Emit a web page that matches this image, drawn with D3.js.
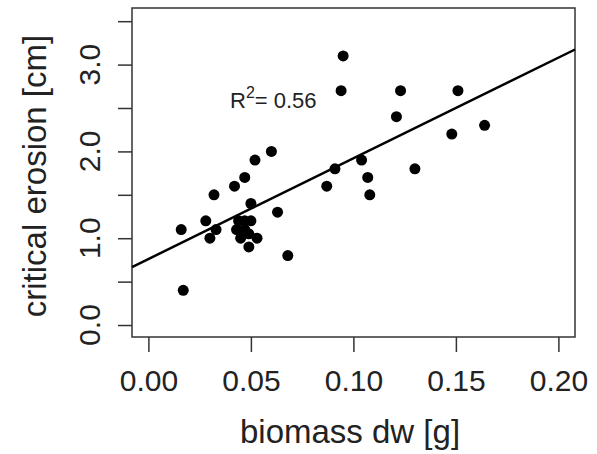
<!DOCTYPE html>
<html>
<head>
<meta charset="utf-8">
<script src="https://cdn.jsdelivr.net/npm/d3@7"></script>
<style>
  body { margin: 0; background: #fff; }
  text { font-family: "Liberation Sans", Arial, sans-serif; fill: #222; }
</style>
</head>
<body>
<div id="chart"></div>
<script>
// biomass dry weight [g]
var biomass = [0.016, 0.017, 0.028, 0.030, 0.032, 0.033, 0.042, 0.047, 0.052, 0.060,
               0.050, 0.063, 0.068, 0.044, 0.047, 0.050, 0.043, 0.047, 0.045, 0.049,
               0.053, 0.049, 0.087, 0.091, 0.095, 0.094, 0.104, 0.107, 0.108, 0.121,
               0.123, 0.130, 0.148, 0.151, 0.164];
// critical erosion [cm]
var erosion = [1.1, 0.4, 1.2, 1.0, 1.5, 1.1, 1.6, 1.7, 1.9, 2.0,
               1.4, 1.3, 0.8, 1.2, 1.2, 1.2, 1.1, 1.1, 1.0, 1.05,
               1.0, 0.9, 1.6, 1.8, 3.1, 2.7, 1.9, 1.7, 1.5, 2.4,
               2.7, 1.8, 2.2, 2.7, 2.3];
// fitted line: intercept, slope
var fit = [0.76, 11.6];
var r2 = "0.56";

var xTicks = [0, 0.05, 0.10, 0.15, 0.20];
var yTicks = [0, 0.5, 1, 1.5, 2, 2.5, 3, 3.5];
var yLabels = [0, 1, 2, 3];

var width = 597, height = 454;
var margin = {top: 8, right: 22, bottom: 117, left: 132};

var svg = d3.select("#chart").append("svg")
    .attr("width", width)
    .attr("height", height);

var x = d3.scaleLinear()
    .domain([-0.008, 0.2081])
    .range([margin.left, width - margin.right]);

var y = d3.scaleLinear()
    .domain([-0.138, 3.652])
    .range([height - margin.bottom, margin.top]);

// box
svg.append("rect")
    .attr("x", margin.left)
    .attr("y", margin.top)
    .attr("width", width - margin.right - margin.left)
    .attr("height", height - margin.bottom - margin.top)
    .attr("fill", "none")
    .attr("stroke", "#333")
    .attr("stroke-width", 1.5);

// x axis
var xAxis = svg.append("g")
    .attr("transform", "translate(0," + (height - margin.bottom) + ")")
    .call(d3.axisBottom(x).tickValues(xTicks).tickSize(15).tickPadding(18)
        .tickFormat(d3.format(".2f")));
xAxis.select(".domain").remove();
xAxis.selectAll("line").attr("stroke", "#333").attr("stroke-width", 1.5);
xAxis.selectAll("text")
    .style("font-family", "Liberation Sans, Arial, sans-serif")
    .style("font-size", "30px")
    .attr("fill", "#222");

// y axis
var yAxis = svg.append("g")
    .attr("transform", "translate(" + margin.left + ",0)")
    .call(d3.axisLeft(y).tickValues(yTicks).tickSize(14).tickFormat(""));
yAxis.select(".domain").remove();
yAxis.selectAll("line").attr("stroke", "#333").attr("stroke-width", 1.5);

svg.selectAll(".ylab")
    .data(yLabels)
    .enter().append("text")
    .attr("class", "ylab")
    .attr("transform", function(d) { return "translate(100," + y(d) + ") rotate(-90)"; })
    .attr("text-anchor", "middle")
    .style("font-size", "30px")
    .text(function(d) { return d3.format(".1f")(d); });

// titles
svg.append("text")
    .attr("x", 350)
    .attr("y", 443)
    .attr("text-anchor", "middle")
    .style("font-size", "33px")
    .text("biomass dw [g]");

svg.append("text")
    .attr("transform", "translate(46," + 176 + ") rotate(-90)")
    .attr("text-anchor", "middle")
    .style("font-size", "33px")
    .text("critical erosion [cm]");

// regression line
var xd = x.domain();
svg.append("line")
    .attr("x1", x(xd[0]))
    .attr("y1", y(fit[0] + fit[1] * xd[0]))
    .attr("x2", x(xd[1]))
    .attr("y2", y(fit[0] + fit[1] * xd[1]))
    .attr("stroke", "#000")
    .attr("stroke-width", 2.5);

// points
svg.selectAll("circle")
    .data(biomass)
    .enter().append("circle")
    .attr("cx", function(d) { return x(d); })
    .attr("cy", function(d, i) { return y(erosion[i]); })
    .attr("r", 5.5)
    .attr("fill", "#000");

// R2 annotation
var ann = svg.append("text")
    .attr("x", 230)
    .attr("y", 108)
    .style("font-size", "22px")
    .attr("fill", "#333");
ann.append("tspan").text("R");
ann.append("tspan").attr("dy", -10).style("font-size", "16px").text("2");
ann.append("tspan").attr("dy", 10).text("= " + r2);
</script>
</body>
</html>
